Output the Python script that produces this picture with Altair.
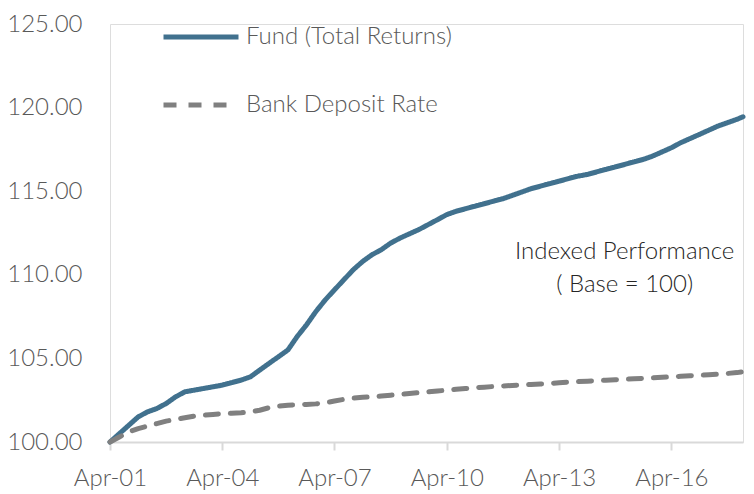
import altair as alt
import pandas as pd

# quarterly observation dates (Apr-01 .. Jan-18) plus final month
DATES = [d.strftime("%Y-%m-%d") for d in pd.date_range("2001-04-01", periods=68, freq="3MS")] + ["2018-03-01"]

FUND = [100.0, 100.5, 101.0, 101.5,
        101.8, 102.0, 102.3, 102.7,
        103.0, 103.1, 103.2, 103.3,
        103.4, 103.55, 103.7, 103.9,
        104.3, 104.7, 105.1, 105.5,
        106.3, 107.0, 107.8, 108.5,
        109.1, 109.7, 110.3, 110.8,
        111.2, 111.5, 111.9, 112.2,
        112.45, 112.7, 113.0, 113.3,
        113.6, 113.8, 113.95, 114.1,
        114.25, 114.4, 114.55, 114.75,
        114.95, 115.15, 115.3, 115.45,
        115.6, 115.75, 115.9, 116.0,
        116.15, 116.3, 116.45, 116.6,
        116.75, 116.9, 117.1, 117.35,
        117.6, 117.9, 118.15, 118.4,
        118.65, 118.9, 119.1, 119.3,
        119.45]

BANK = [100.0, 100.3, 100.6, 100.8,
        100.95, 101.1, 101.25, 101.35,
        101.45, 101.55, 101.6, 101.65,
        101.7, 101.72, 101.75, 101.8,
        101.9, 102.05, 102.15, 102.2,
        102.22, 102.25, 102.28, 102.35,
        102.45, 102.55, 102.62, 102.67,
        102.7, 102.75, 102.8, 102.85,
        102.9, 102.95, 103.0, 103.05,
        103.1, 103.15, 103.2, 103.25,
        103.28, 103.32, 103.35, 103.38,
        103.41, 103.44, 103.47, 103.5,
        103.55, 103.58, 103.61, 103.64,
        103.67, 103.7, 103.72, 103.75,
        103.78, 103.81, 103.84, 103.87,
        103.9, 103.93, 103.96, 103.99,
        104.02, 104.06, 104.1, 104.15,
        104.2]

SERIES = ["Fund (Total Returns)", "Bank Deposit Rate"]
COLORS = ["#41718E", "#808080"]
DASHES = [[1, 0], [13, 12]]
TICK_YEARS = [2001, 2004, 2007, 2010, 2013, 2016]
Y_TICKS = [100, 105, 110, 115, 120, 125]
ANNOT = ["Indexed Performance", "( Base = 100)"]

FONT = "Lato"
WEIGHT = 300
LABEL_COLOR = "#595959"

df = pd.DataFrame({
    "date": DATES * 2,
    "value": FUND + BANK,
    "series": [SERIES[0]] * len(FUND) + [SERIES[1]] * len(BANK),
    "ord": [0] * len(FUND) + [1] * len(BANK),
})

legend = alt.Legend(
    orient="none", legendX=51, legendY=-27, title=None,
    symbolType="stroke", symbolSize=5625, symbolStrokeWidth=5,
    labelFontSize=24, labelColor=LABEL_COLOR, labelFont=FONT, labelFontWeight=WEIGHT,
    labelOffset=5, rowPadding=16, labelLimit=0,
)

xscale = alt.Scale(type="utc", domain=[alt.DateTime(year=2001, month=4, date=1, utc=True),
                                       alt.DateTime(year=2018, month=3, date=1, utc=True)])

lines = alt.Chart(df).mark_line(strokeWidth=5, strokeCap="round", strokeJoin="round").encode(
    x=alt.X("date:T", scale=xscale,
            axis=alt.Axis(values=[alt.DateTime(year=y, month=4, date=1, utc=True) for y in TICK_YEARS],
                          format="%b-%y", title=None, grid=False,
                          domainColor="#d9d9d9", domainWidth=2,
                          tickColor="#d9d9d9", tickWidth=2, tickSize=8,
                          labelFontSize=24, labelColor=LABEL_COLOR, labelFont=FONT,
                          labelFontWeight=WEIGHT,
                          labelPadding=16, labelOverlap=False, labelFlush=False)),
    y=alt.Y("value:Q", scale=alt.Scale(domain=[100, 125], nice=False, zero=False),
            axis=alt.Axis(values=Y_TICKS, format=".2f", title=None, grid=False,
                          domain=False, ticks=False, labelFontSize=24,
                          labelFontWeight=WEIGHT,
                          labelColor=LABEL_COLOR, labelFont=FONT, labelPadding=28)),
    color=alt.Color("series:N", scale=alt.Scale(domain=SERIES, range=COLORS), legend=legend),
    strokeDash=alt.StrokeDash("series:N", scale=alt.Scale(domain=SERIES, range=DASHES), legend=legend),
    order=alt.Order("ord:Q"),
)

annot = alt.Chart().mark_text(
    fontSize=24, font=FONT, fontWeight=WEIGHT, color="#262626",
    align="center", baseline="middle", lineHeight=33
).encode(
    x=alt.datum(alt.DateTime(year=2015, month=1, date=1, utc=True)),
    y=alt.datum(111.36),
    text=alt.value(ANNOT),
)

chart = alt.layer(lines, annot).properties(
    width=633, height=418,
    autosize=alt.AutoSizeParams(type="none"),
    padding={"left": 102, "top": 16, "right": 3, "bottom": 60},
).configure_view(stroke=None).configure(background="white")

chart.save("out.html", embed_options={"renderer": "svg", "actions": False})
